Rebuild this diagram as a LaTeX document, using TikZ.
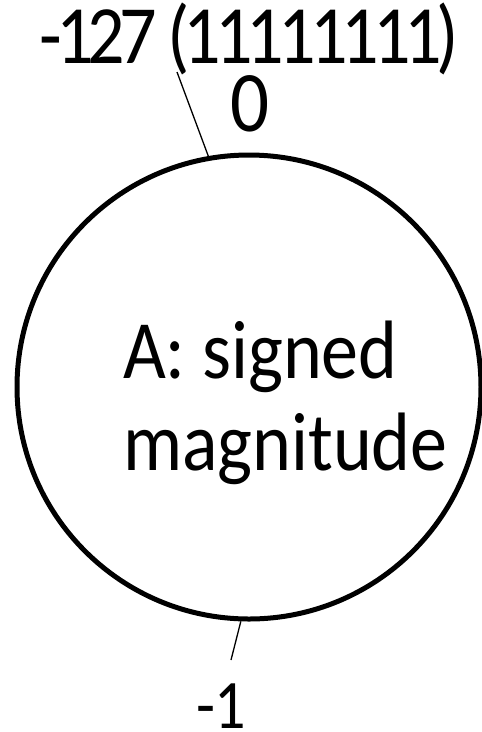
\documentclass[tikz,border=0pt]{standalone}
\usepackage{fontspec}
\setmainfont{Carlito}
\newfontfamily\tightfont[LetterSpace=-8.1]{Carlito}
\newcommand{\tall}[1]{\scalebox{1}[1.12]{#1}}
\begin{document}
\begin{tikzpicture}[x=1pt,y=-1pt,
  lbl/.style={inner sep=0pt,outer sep=0pt,text=black},
  ring/.style={circle,draw=black,line width=5pt,minimum size=464pt,inner sep=0pt},
  tick/.style={draw=black,line width=1.3pt}]
\useasboundingbox (0,0) rectangle (482,732);
\node[ring] (c) at (249,387) {};
\node[lbl,anchor=base west,font=\fontsize{74}{82}\selectfont] (title) at (123,470)
  {\tall{\begin{tabular}[b]{@{}l@{}}A: signed\\magnitude\end{tabular}}};
\node[lbl,anchor=base west,font=\tightfont\fontsize{74}{90}\selectfont] (top) at (39.5,63) {\tall{-127 (11111111)}};
\node[lbl,anchor=base,font=\fontsize{77}{90}\selectfont] (zero) at (250,131) {\tall{0}};
\node[lbl,anchor=base west,font=\fontsize{62}{75}\selectfont] (m1) at (196,728) {\tall{-1}};
\coordinate (t1) at (177,72);
\coordinate (b1) at (231,660);
\draw[tick] (c.100) -- (t1);
\draw[tick] (c.268.3) -- (b1);
\end{tikzpicture}
\end{document}
